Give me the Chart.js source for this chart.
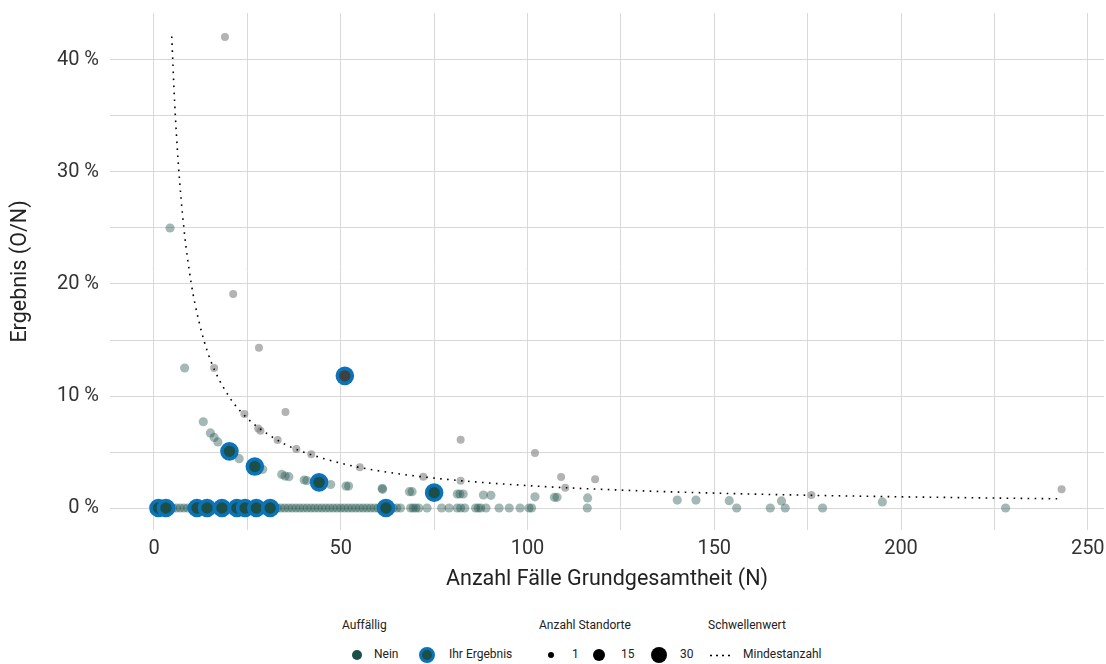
<!DOCTYPE html>
<html>
<head>
<meta charset="utf-8">
<script src="https://cdn.jsdelivr.net/npm/chart.js@4"></script>
<style>
  body { margin: 0; background: #fff; font-family: Roboto, sans-serif; }
  #wrap { position: relative; width: 1106px; height: 664px; }
  #legend { position: absolute; left: 0; top: 600px; width: 1106px; height: 64px; font-size: 12px; color: #222; }
  #legend span, #legend i { position: absolute; white-space: nowrap; }
  #legend i { border-radius: 50%; display: block; }
  #legend .dots { height: 3px; background-image: radial-gradient(circle, #000 0.9px, transparent 1.2px); background-size: 6px 3px; }
</style>
</head>
<body>
<div id="wrap">
  <canvas id="scatterChart" width="1106" height="600"></canvas>
  <div id="legend">
    <span style="left:342px; top:18px;">Auffällig</span>
    <i style="left:352px; top:50px; width:10px; height:10px; background:#1b4f48;"></i>
    <span style="left:374px; top:47px;">Nein</span>
    <i style="left:419px; top:47px; width:10px; height:10px; background:#1b4f48; border:3px solid #0a73b9;"></i>
    <span style="left:449px; top:47px;">Ihr Ergebnis</span>
    <span style="left:539px; top:18px;">Anzahl Standorte</span>
    <i style="left:548px; top:52px; width:6px; height:6px; background:#000;"></i>
    <span style="left:572px; top:47px;">1</span>
    <i style="left:593px; top:49px; width:12px; height:12px; background:#000;"></i>
    <span style="left:621px; top:47px;">15</span>
    <i style="left:651px; top:47px; width:16px; height:16px; background:#000;"></i>
    <span style="left:680px; top:47px;">30</span>
    <span style="left:708px; top:18px;">Schwellenwert</span>
    <span class="dots" style="left:708px; top:54px; width:24px;"></span>
    <span style="left:743px; top:47px;">Mindestanzahl</span>
  </div>
</div>
<script>
// Nein (not conspicuous), result above zero
const neinPoints = [
  [4.3, 25], [8.2, 12.5], [13.2, 7.7], [15.1, 6.7], [16.1, 6.3], [17.1, 5.9], [22.8, 4.4],
  [29.1, 3.45], [34.2, 3.0], [35.1, 2.85], [36.1, 2.8], [40.2, 2.5], [40.9, 2.45], [47.3, 2.1],
  [51.4, 1.96], [52.1, 1.96], [61.1, 1.76], [61.2, 1.67], [68.4, 1.46], [69.1, 1.46],
  [81.2, 1.25], [81.9, 1.25], [82.8, 1.25], [88.2, 1.16], [90.2, 1.13], [102, 1.0],
  [107.2, 0.95], [107.9, 0.95], [116.1, 0.9], [140.1, 0.71], [145.1, 0.71], [154, 0.65],
  [168, 0.63], [195, 0.54]
];
// Nein, result 0 % (N values)
const neinZeroN = [
  2, 4, 5, 6, 7, 8, 9, 10, 11, 12, 13, 14, 15, 16, 17, 18, 19, 20, 21, 22, 23, 24, 25, 26,
  27, 28, 29, 30, 31, 32, 33, 34, 35, 36, 37, 38, 39, 40, 41, 42, 43, 44, 45, 46, 47, 48, 49,
  50, 51, 52, 53, 54, 55, 56, 57, 58, 59, 60, 61, 63, 64, 65, 66, 68.7, 69.4, 70.1, 70.9,
  73.1, 77, 79, 81.2, 82.1, 83.2, 86.1, 86.8, 87.5, 88.9, 92.4, 95.1, 98, 100.4, 101.1, 116,
  156, 165, 169, 179, 228
];
// points above the threshold (grey)
const greyPoints = [
  [19, 42.05], [21.2, 19.1], [28.1, 14.3], [16.1, 12.5], [35.2, 8.57], [24.2, 8.4], [27.9, 7.1],
  [28.5, 6.9], [33.1, 6.07], [38.1, 5.27], [42.1, 4.8], [55.1, 3.63], [72.1, 2.8], [82.1, 6.1],
  [82.1, 2.44], [102, 4.9], [109, 2.77], [110.1, 1.8], [118.1, 2.56], [176, 1.16], [243, 1.67]
];
// Ihr Ergebnis
const ihrPoints = [[20.2, 5.06], [27.0, 3.7], [44.2, 2.29], [75.0, 1.37]];
const ihrZeroN = [1.2, 3.2, 11.5, 14.2, 18.2, 22.2, 24.4, 27.4, 31.1, 62.1];
const ihrAbovePoints = [[51.1, 11.8]];
// Mindestanzahl threshold curve
const thresholdN = [4.75, 5.5, 6.5, 8, 10, 12, 15, 20, 25, 30, 35, 40, 50, 60, 75, 100, 125, 150, 175, 200, 225, 243];
const thresholdPct = [42.1, 36.4, 30.8, 25, 20, 16.7, 13.3, 10, 8, 6.7, 5.7, 5, 4, 3.33, 2.67, 2, 1.6, 1.33, 1.14, 1, 0.89, 0.82];

const yTicks = [0, 5, 10, 15, 20, 25, 30, 35, 40];
const xTicks = [0, 25, 50, 75, 100, 125, 150, 175, 200, 225, 250];

const toXY = p => ({ x: p[0], y: p[1] });
const zeroXY = n => ({ x: n, y: 0 });

const tickFont = { family: 'Roboto', size: 20 };
const titleFont = { family: 'Roboto', size: 21.5 };

// drop the label-overflow padding so the plot area sits where the reference has it
const noPadding = s => {
  s.paddingTop = 0; s.paddingBottom = 0; s.paddingLeft = 0; s.paddingRight = 0;
};

const ctx = document.getElementById('scatterChart').getContext('2d');
new Chart(ctx, {
  type: 'scatter',
  data: {
    datasets: [
      {
        label: 'Ihr Ergebnis',
        data: ihrPoints.map(toXY).concat(ihrZeroN.map(zeroXY)),
        backgroundColor: '#1b4f48',
        borderColor: '#0a73b9',
        borderWidth: 3.6,
        pointRadius: 7.5,
        order: 0
      },
      {
        label: 'Ihr Ergebnis (über Schwelle)',
        data: ihrAbovePoints.map(toXY),
        backgroundColor: '#3c4242',
        borderColor: '#0a73b9',
        borderWidth: 3.6,
        pointRadius: 7.5,
        order: 1
      },
      {
        label: 'Mindestanzahl',
        data: thresholdN.map((n, i) => ({ x: n, y: thresholdPct[i] })),
        showLine: true,
        borderColor: '#000',
        borderWidth: 1.6,
        borderDash: [1.6, 5.4],
        pointRadius: 0,
        cubicInterpolationMode: 'monotone',
        order: 2
      },
      {
        label: 'Über Schwelle',
        data: greyPoints.map(toXY),
        backgroundColor: 'rgba(128,128,128,0.6)',
        borderWidth: 0,
        pointRadius: 4,
        order: 3
      },
      {
        label: 'Nein',
        data: neinPoints.map(toXY).concat(neinZeroN.map(zeroXY)),
        backgroundColor: 'rgba(27,79,72,0.4)',
        borderWidth: 0,
        pointRadius: 4.6,
        order: 4
      }
    ]
  },
  options: {
    responsive: false,
    animation: false,
    layout: { autoPadding: false, padding: { top: 13, right: 2, left: 0, bottom: 0 } },
    scales: {
      x: {
        type: 'linear',
        min: -11.78,
        max: 254.35,
        border: { display: false },
        grid: { color: '#d9d9d9', lineWidth: 1, drawTicks: false },
        afterBuildTicks: s => { s.ticks = xTicks.map(v => ({ value: v })); },
        afterFit: s => { s.height = 70; noPadding(s); },
        ticks: {
          autoSkip: false,
          maxRotation: 0,
          padding: 7,
          color: '#333',
          font: tickFont,
          callback: v => (v % 50 === 0 ? String(v) : '')
        },
        title: {
          display: true,
          text: 'Anzahl Fälle Grundgesamtheit (N)',
          color: '#222',
          font: titleFont,
          padding: { top: 0, bottom: 7 }
        }
      },
      y: {
        type: 'linear',
        min: -1.964,
        max: 44.196,
        border: { display: false },
        grid: { color: '#d9d9d9', lineWidth: 1, drawTicks: false },
        afterBuildTicks: s => { s.ticks = yTicks.map(v => ({ value: v })); },
        afterFit: s => { s.width = 110; noPadding(s); },
        ticks: {
          autoSkip: false,
          padding: 11,
          color: '#333',
          font: tickFont,
          callback: v => (v % 10 === 0 ? v + ' %' : '')
        },
        title: {
          display: true,
          text: 'Ergebnis (O/N)',
          color: '#222',
          font: titleFont,
          padding: { top: 8, bottom: 0 }
        }
      }
    },
    plugins: {
      legend: { display: false },
      tooltip: { enabled: false }
    }
  }
});
</script>
</body>
</html>
